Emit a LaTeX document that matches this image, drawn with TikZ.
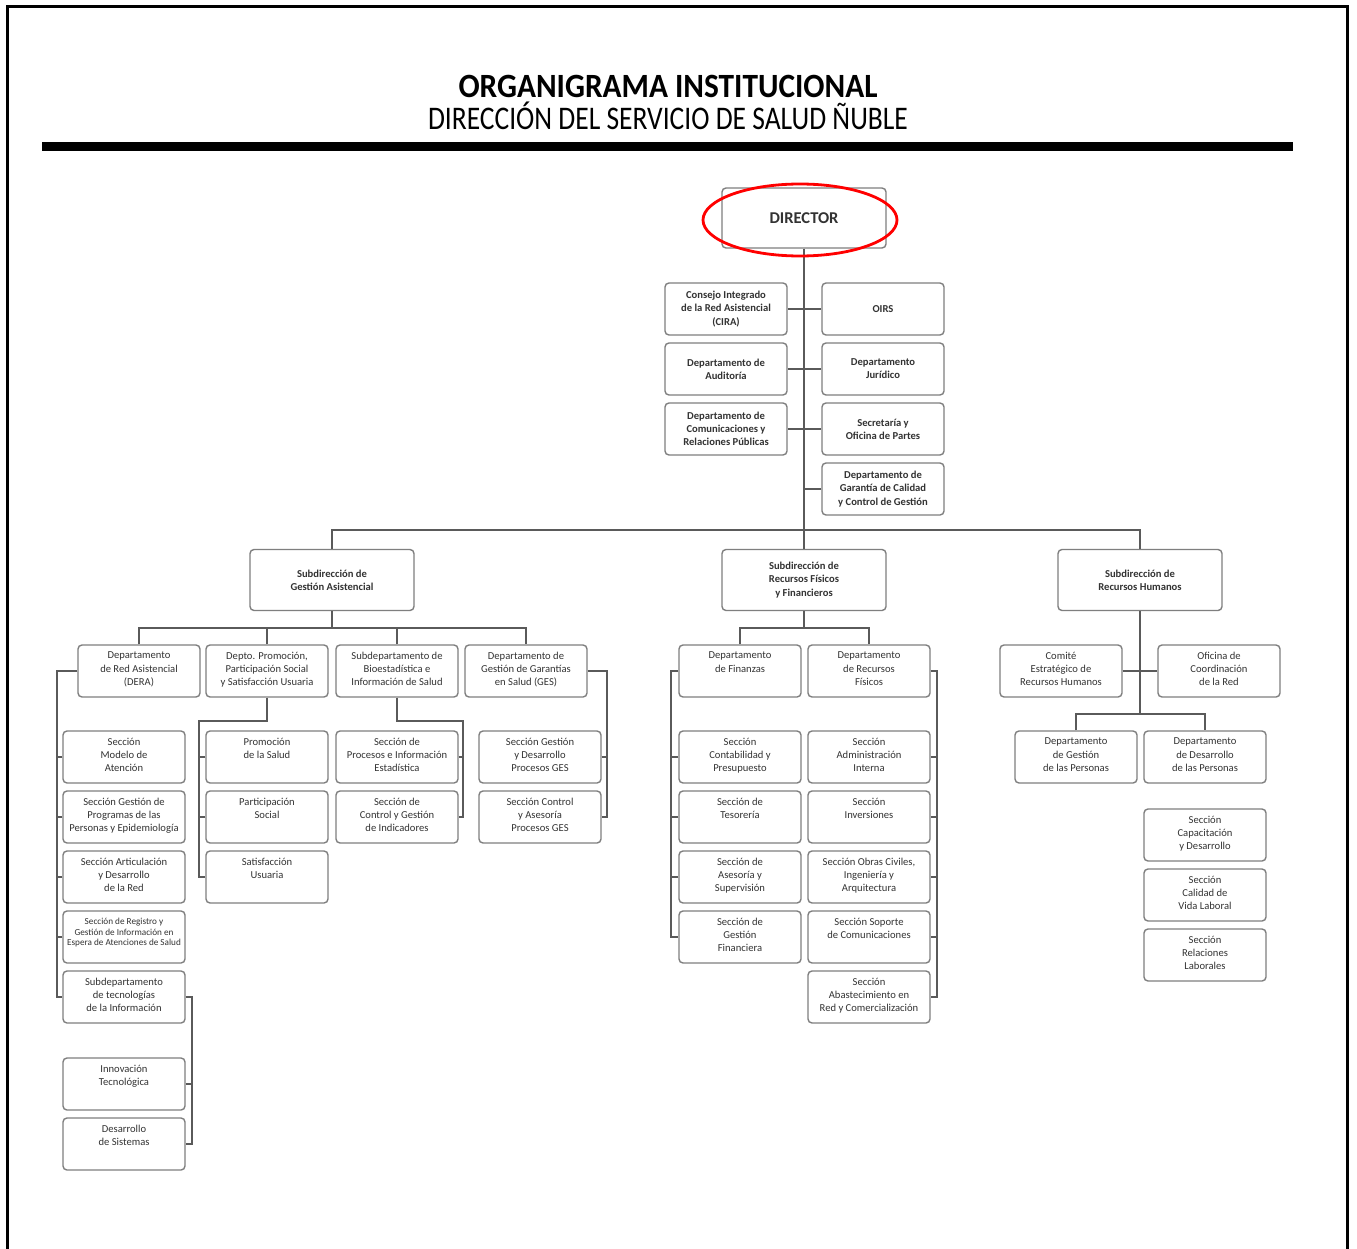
\documentclass[tikz,border=0pt]{standalone}
\usepackage{fontspec}
\setmainfont{Carlito}
\usepackage{graphicx}
\usetikzlibrary{shapes.geometric}

\definecolor{boxgray}{HTML}{7F7F7F}
\definecolor{linegray}{HTML}{5A5A5A}
\definecolor{txtgray}{HTML}{333333}

% text kept at the top of a section box
\newcommand{\toptxt}[1]{\parbox[c][38pt][t]{120pt}{\centering #1}}

\tikzset{
  box/.style={draw=boxgray, line width=1.4pt, rounded corners=4pt, fill=white, inner sep=0pt,
    minimum width=122pt, minimum height=52pt, align=center, text=txtgray,
    font=\fontsize{10.6}{13.2}\selectfont},
  staff/.style={box, text=black!80, font=\fontsize{10.6}{13.2}\selectfont\bfseries},
  subdir/.style={staff, minimum width=164pt, minimum height=61pt},
  conn/.style={draw=linegray, line width=1.4pt},
}

\begin{document}
\begin{tikzpicture}[x=1pt,y=-1pt]
  \useasboundingbox (0,0) rectangle (1357,1249);
  \fill[white] (0,0) rectangle (1357,1249);

  % frame and heading
  \draw[line width=3pt] (7.5,1249) -- (7.5,7) -- (1347.5,7) -- (1347.5,1249);
  \node[anchor=base] (title) at (668,98) {\resizebox{419pt}{\height}{\fontsize{34}{36}\selectfont\bfseries ORGANIGRAMA INSTITUCIONAL}};
  \node[anchor=base] (subtitle) at (668,129.5) {\resizebox{480pt}{\height}{\fontsize{33}{36}\selectfont DIRECCIÓN DEL SERVICIO DE SALUD ÑUBLE}};
  \draw[line width=9pt] (42,146.5) -- (1293,146.5);

  % direction
  \coordinate (top) at (804,530);
  \coordinate (busA) at (332,628);
  \coordinate (busF) at (804,628);
  \coordinate (busH) at (1140,714);

  \node[subdir, minimum height=60pt, font=\fontsize{16.5}{18}\selectfont\bfseries] (dir) at (804,218) {DIRECTOR};

  \node[staff] (cira) at (726,309) {Consejo Integrado\\de la Red Asistencial\\(CIRA)};
  \node[staff] (aud) at (726,369) {Departamento de\\Auditoría};
  \node[staff] (com) at (726,429) {Departamento de\\Comunicaciones y\\Relaciones Públicas};
  \node[staff] (oirs) at (883,309) {OIRS};
  \node[staff] (jur) at (883,369) {Departamento\\Jurídico};
  \node[staff] (secp) at (883,429) {Secretaría y\\Oficina de Partes};
  \node[staff] (gcal) at (883,489) {Departamento de\\Garantía de Calidad\\y Control de Gestión};

  \node[subdir] (sga) at (332,580) {Subdirección de\\Gestión Asistencial};
  \node[subdir] (sfr) at (804,580) {Subdirección de\\Recursos Físicos\\y Financieros};
  \node[subdir] (srh) at (1140,580) {Subdirección de\\Recursos Humanos};

  \draw[conn] (dir.south) -- (sfr.north);
  \draw[conn] (cira.east) -- (oirs.west);
  \draw[conn] (aud.east) -- (jur.west);
  \draw[conn] (com.east) -- (secp.west);
  \draw[conn] (gcal.west) -- (gcal.west -| dir.south);
  \draw[conn] (sga.north) |- (top) -| (srh.north);

  \node[draw=red, line width=2.8pt, ellipse, minimum width=194pt, minimum height=72pt] (ring) at (800,220) {};

  % Subdireccion de Gestion Asistencial
  \node[box] (dera) at (139,671) {\toptxt{Departamento\\de Red Asistencial\\(DERA)}};
  \node[box] (promo) at (267,671) {\toptxt{Depto. Promoción,\\Participación Social\\y Satisfacción Usuaria}};
  \node[box] (bioe) at (397,671) {\toptxt{Subdepartamento de\\Bioestadística e\\Información de Salud}};
  \node[box] (ges) at (526,671) {\toptxt{Departamento de\\Gestión de Garantías\\en Salud (GES)}};

  \draw[conn] (sga.south) -- (busA);
  \draw[conn] (dera.north) |- (busA) -| (ges.north);
  \draw[conn] (promo.north) -- (promo.north |- busA);
  \draw[conn] (bioe.north) -- (bioe.north |- busA);

  \node[box] (smod) at (124,757) {\toptxt{Sección\\Modelo de\\Atención}};
  \node[box] (sprog) at (124,817) {\toptxt{Sección Gestión de\\Programas de las\\Personas y Epidemiología}};
  \node[box] (sart) at (124,877) {\toptxt{Sección Articulación\\y Desarrollo\\de la Red}};
  \node[box, font=\fontsize{9.2}{10.8}\selectfont] (sreg) at (124,937) {\toptxt{Sección de Registro y\\Gestión de Información en\\Espera de Atenciones de Salud}};
  \node[box] (dti) at (124,997) {\toptxt{Subdepartamento\\de tecnologías\\de la Información}};
  \node[box] (sinn) at (124,1084) {\toptxt{Innovación\\Tecnológica}};
  \node[box] (sdes) at (124,1144) {\toptxt{Desarrollo\\de Sistemas}};

  \coordinate (railA) at (57,671);
  \draw[conn] (dera.west) -- (railA) |- (dti.west);
  \foreach \n in {smod,sprog,sart,sreg}
    \draw[conn] (\n.west) -- (\n.west -| railA);
  \coordinate (railT) at (192,997);
  \draw[conn] (dti.east) -- (railT) |- (sdes.east);
  \draw[conn] (sinn.east) -- (sinn.east -| railT);

  \node[box] (spro) at (267,757) {\toptxt{Promoción\\de la Salud}};
  \node[box] (spar) at (267,817) {\toptxt{Participación\\Social}};
  \node[box] (ssat) at (267,877) {\toptxt{Satisfacción\\Usuaria}};

  \coordinate (railP) at (199,721);
  \draw[conn] (promo.south) |- (railP) |- (ssat.west);
  \foreach \n in {spro,spar}
    \draw[conn] (\n.west) -- (\n.west -| railP);

  \node[box] (sproc) at (397,757) {\toptxt{Sección de\\Procesos e Información\\Estadística}};
  \node[box] (sind) at (397,817) {\toptxt{Sección de\\Control y Gestión\\de Indicadores}};

  \coordinate (railB) at (463,721);
  \draw[conn] (bioe.south) |- (railB) |- (sind.east);
  \draw[conn] (sproc.east) -- (sproc.east -| railB);

  \node[box] (sgd) at (540,757) {\toptxt{Sección Gestión\\y Desarrollo\\Procesos GES}};
  \node[box] (sctl) at (540,817) {\toptxt{Sección Control\\y Asesoría\\Procesos GES}};

  \coordinate (railG) at (607,671);
  \draw[conn] (ges.east) -- (railG) |- (sctl.east);
  \draw[conn] (sgd.east) -- (sgd.east -| railG);

  % Subdireccion de Recursos Fisicos y Financieros
  \node[box] (fin) at (740,671) {\toptxt{Departamento\\de Finanzas}};
  \node[box] (rfis) at (869,671) {\toptxt{Departamento\\de Recursos\\Físicos}};

  \draw[conn] (sfr.south) -- (busF);
  \draw[conn] (fin.north) |- (busF) -| (rfis.north);

  \node[box] (scont) at (740,757) {\toptxt{Sección\\Contabilidad y\\Presupuesto}};
  \node[box] (stes) at (740,817) {\toptxt{Sección de\\Tesorería}};
  \node[box] (sase) at (740,877) {\toptxt{Sección de\\Asesoría y\\Supervisión}};
  \node[box] (sgfin) at (740,937) {\toptxt{Sección de\\Gestión\\Financiera}};

  \coordinate (railF) at (671,671);
  \draw[conn] (fin.west) -- (railF) |- (sgfin.west);
  \foreach \n in {scont,stes,sase}
    \draw[conn] (\n.west) -- (\n.west -| railF);

  \node[box] (sadm) at (869,757) {\toptxt{Sección\\Administración\\Interna}};
  \node[box] (sinv) at (869,817) {\toptxt{Sección\\Inversiones}};
  \node[box] (sobr) at (869,877) {\toptxt{Sección Obras Civiles,\\Ingeniería y\\Arquitectura}};
  \node[box] (ssop) at (869,937) {\toptxt{Sección Soporte\\de Comunicaciones}};
  \node[box] (sabas) at (869,997) {\toptxt{Sección\\Abastecimiento en\\Red y Comercialización}};

  \coordinate (railR) at (937,671);
  \draw[conn] (rfis.east) -- (railR) |- (sabas.east);
  \foreach \n in {sadm,sinv,sobr,ssop}
    \draw[conn] (\n.east) -- (\n.east -| railR);

  % Subdireccion de Recursos Humanos
  \node[box] (comite) at (1061,671) {\toptxt{Comité\\Estratégico de\\Recursos Humanos}};
  \node[box] (ofic) at (1219,671) {\toptxt{Oficina de\\Coordinación\\de la Red}};
  \node[box] (dgp) at (1076,757) {\toptxt{Departamento\\de Gestión\\de las Personas}};
  \node[box] (ddp) at (1205,757) {\toptxt{Departamento\\de Desarrollo\\de las Personas}};

  \draw[conn] (srh.south) -- (busH);
  \draw[conn] (comite.east) -- (ofic.west);
  \draw[conn] (dgp.north) |- (busH) -| (ddp.north);

  \node[box] (scap) at (1205,835) {\toptxt{Sección\\Capacitación\\y Desarrollo}};
  \node[box] (scal) at (1205,895) {\toptxt{Sección\\Calidad de\\Vida Laboral}};
  \node[box] (srel) at (1205,955) {\toptxt{Sección\\Relaciones\\Laborales}};
\end{tikzpicture}
\end{document}
